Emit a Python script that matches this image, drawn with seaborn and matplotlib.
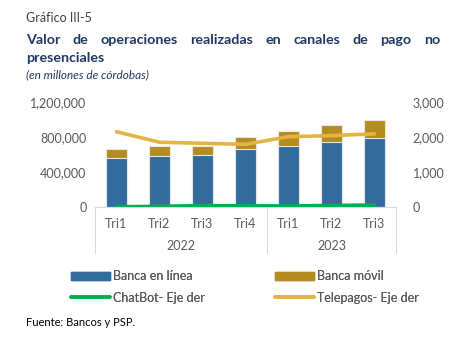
import numpy as np
import pandas as pd
import matplotlib
matplotlib.use("Agg")
import matplotlib.pyplot as plt
import matplotlib.transforms as mtransforms
from matplotlib.lines import Line2D
from matplotlib.patches import Patch
import seaborn as sns

# data
years = ["2022", "2023"]
quarters = ["Tri1", "Tri2", "Tri3", "Tri4", "Tri1", "Tri2", "Tri3"]
year_of = ["2022", "2022", "2022", "2022", "2023", "2023", "2023"]
banca_linea = [563000, 586000, 598000, 663000, 697000, 746000, 789000]
banca_movil = [100000, 111000, 99000, 141000, 168000, 195000, 205000]
chatbot = [5, 20, 40, 35, 30, 45, 55]
telepagos = [2150, 1850, 1820, 1790, 2010, 2040, 2090]

blue = "#336C9C"
gold = "#B58C22"
green = "#00B050"
tele = "#E3B443"
txt = "#595959"
navy = "#1F3864"

sns.set_style("white")
plt.rcParams["font.family"] = ["Lato", "DejaVu Sans"]

df = pd.DataFrame({
    "key": [f"{y}-{q}" for y, q in zip(year_of, quarters)],
    "linea": banca_linea,
    "total": np.array(banca_linea) + np.array(banca_movil),
    "chatbot": chatbot,
    "telepagos": telepagos,
})
df["pos"] = range(len(df))

fig = plt.figure(figsize=(4.6, 3.64), dpi=100)
W, H = 460, 364
ax = fig.add_axes([95 / W, 1 - 207 / H, (396 - 95) / W, (207 - 102) / H])

sns.barplot(data=df, x="key", y="total", color=gold, width=0.5, saturation=1,
            edgecolor="#E6E6E6", linewidth=0.8, ax=ax)
sns.barplot(data=df, x="key", y="linea", color=blue, width=0.5, saturation=1,
            edgecolor="#E6E6E6", linewidth=0.8, ax=ax)
ax.set_ylim(0, 1200000)
ax.set_xlim(-0.5, len(df) - 0.5)
ax.set_yticks([0, 400000, 800000, 1200000])
ax.set_yticklabels([f"{v:,.0f}" for v in ax.get_yticks()])
ax.set_xticks(range(len(df)))
ax.set_xticklabels(quarters)
ax.set_xlabel("")
ax.set_ylabel("")
ax.tick_params(axis="both", length=0, labelsize=9, colors=txt, pad=6)
ax.tick_params(axis="x", pad=8)
for s in ["left", "right", "top"]:
    ax.spines[s].set_visible(False)
ax.spines["bottom"].set_color("#D9D9D9")

ax2 = ax.twinx()
sns.lineplot(data=df, x="pos", y="telepagos", color=tele, linewidth=2.6, ax=ax2,
             solid_capstyle="round")
sns.lineplot(data=df, x="pos", y="chatbot", color=green, linewidth=2.6, ax=ax2,
             solid_capstyle="round")
ax2.set_ylim(0, 3000)
ax2.set_yticks([0, 1000, 2000, 3000])
ax2.set_yticklabels([f"{v:,.0f}" for v in ax2.get_yticks()])
ax2.set_ylabel("")
ax2.tick_params(axis="y", length=0, labelsize=9, colors=txt, pad=12)
for s in ["left", "right", "top", "bottom"]:
    ax2.spines[s].set_visible(False)
ax2.grid(False)
ax.set_zorder(1)
ax2.set_zorder(2)
ax2.patch.set_visible(False)

# multi-level category axis: year groups and separators
trans = mtransforms.blended_transform_factory(ax.transData, ax.transAxes)
n22 = year_of.count("2022")
for xb in [-0.5, n22 - 0.5, len(df) - 0.5]:
    ax.plot([xb, xb], [0, -0.44], transform=trans, color="#D9D9D9",
            linewidth=0.8, clip_on=False)
ax.text((n22 - 1) / 2, -0.37, years[0], transform=trans, ha="center",
        va="center", fontsize=9, color=txt)
ax.text((n22 + len(df) - 1) / 2, -0.37, years[1], transform=trans, ha="center",
        va="center", fontsize=9, color=txt)

# legend, two single-column blocks
col1 = [Patch(color=blue, label="Banca en línea"),
        Line2D([], [], color=green, linewidth=2.6, label="ChatBot- Eje der")]
col2 = [Patch(color=gold, label="Banca móvil"),
        Line2D([], [], color=tele, linewidth=2.6, label="Telepagos- Eje der")]
for hs, x0 in [(col1, 60), (col2, 264)]:
    leg = fig.legend(handles=hs, loc="upper left", bbox_to_anchor=(x0 / W, 1 - 259 / H),
                     frameon=False, fontsize=9, labelcolor=txt, handlelength=3.1,
                     handletextpad=0.25, labelspacing=0.75)
    fig.add_artist(leg)

# title block
fig.text(26 / W, 1 - 18 / H, "Gráfico III-5", fontsize=9, color="#404040", va="center")


def justify(words, y, x0, x1, **kw):
    fig.canvas.draw()
    r = fig.canvas.get_renderer()
    ts = [fig.text(0, y, w, va="center", **kw) for w in words]
    widths = [t.get_window_extent(r).width for t in ts]
    gap = (x1 - x0 - sum(widths)) / (len(words) - 1)
    x = x0
    for t, w in zip(ts, widths):
        t.set_x(x / W)
        x += w + gap


justify("Valor de operaciones realizadas en canales de pago no".split(),
        1 - 40 / H, 26, 440, fontsize=10.3, fontweight="bold", color=navy)
fig.text(26 / W, 1 - 58 / H, "presenciales", fontsize=10.3, fontweight="bold",
         color=navy, va="center")
fig.text(26 / W, 1 - 75 / H, "(en millones de córdobas)", fontsize=8.5,
         style="italic", color=navy, va="center")
fig.text(26 / W, 1 - 322 / H, "Fuente: Bancos y PSP.", fontsize=8, color="black",
         va="center")

fig.savefig("out.png", dpi=100)
